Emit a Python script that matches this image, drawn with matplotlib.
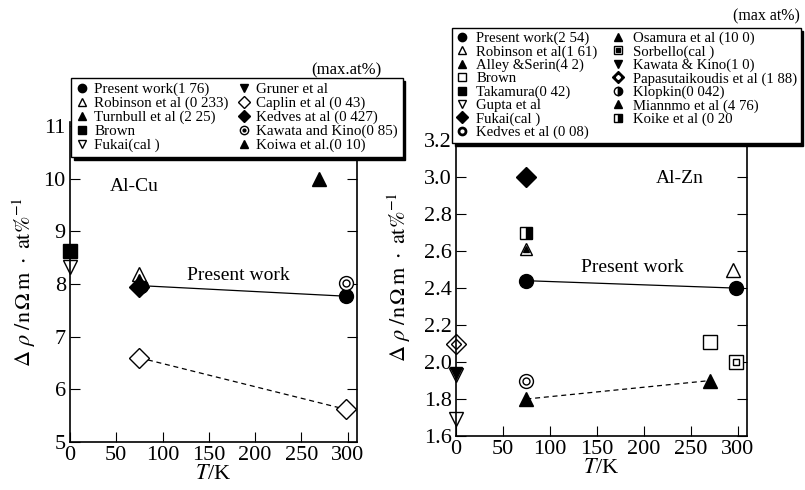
import matplotlib
matplotlib.use("Agg")
import matplotlib.pyplot as plt
from matplotlib.lines import Line2D

plt.rcParams['font.family'] = ['Liberation Serif', 'DejaVu Serif']
plt.rcParams['mathtext.fontset'] = 'stix'

# ---- Al-Cu data (T in K, d_rho in nOhm m / at%) ----
cu_present_T = [77, 298]
cu_present_r = [7.97, 7.77]
cu_robinson_T = [75]
cu_robinson_r = [8.2]
cu_turnbull_T = [75]
cu_turnbull_r = [8.12]
cu_brown_T = [0]
cu_brown_r = [8.62]
cu_fukai_T = [0]
cu_fukai_r = [8.32]
cu_caplin_T = [75, 298]
cu_caplin_r = [6.6, 5.62]
cu_kedves_T = [75]
cu_kedves_r = [7.95]
cu_kawata_T = [298]
cu_kawata_r = [8.03]
cu_koiwa_T = [269]
cu_koiwa_r = [10.0]

# ---- Al-Zn data ----
zn_present_T = [75, 298]
zn_present_r = [2.44, 2.40]
zn_robinson_T = [295]
zn_robinson_r = [2.50]
zn_alley_T = [75]
zn_alley_r = [2.61]
zn_brown_T = [271]
zn_brown_r = [2.11]
zn_gupta_T = [0, 0]
zn_gupta_r = [1.69, 1.93]
zn_fukai_T = [75]
zn_fukai_r = [3.0]
zn_kedves_T = [75]
zn_kedves_r = [1.9]
zn_osamura_T = [75, 271]
zn_osamura_r = [1.80, 1.90]
zn_sorbello_T = [298]
zn_sorbello_r = [2.0]
zn_kawata_T = [0]
zn_kawata_r = [1.94]
zn_papas_T = [0]
zn_papas_r = [2.1]
zn_koike_T = [75]
zn_koike_r = [2.7]

cu_ticks = [5, 6, 7, 8, 9, 10, 11]
zn_ticks = [1.6, 1.8, 2.0, 2.2, 2.4, 2.6, 2.8, 3.0, 3.2]
x_ticks = [0, 50, 100, 150, 200, 250, 300]

fig = plt.figure(figsize=(8.05, 4.9), dpi=100)
ax1 = fig.add_axes([70 / 805, 48 / 490, 287 / 805, 320 / 490])
ax2 = fig.add_axes([456 / 805, 54 / 490, 291 / 805, 318 / 490])

ylab = r'$\Delta\ \rho\ /\mathrm{n\,\Omega\,m}\ \cdot\ \mathrm{at\%}^{-1}$'

for ax in (ax1, ax2):
    ax.set_xlim(0, 310)
    ax.set_xticks(x_ticks)
    ax.spines['top'].set_visible(False)
    ax.tick_params(direction='in', length=7, labelsize=16, right=True, top=False, pad=3)
    ax.set_xlabel(r'$T$/K', fontsize=16, labelpad=0)
    for sp in ax.spines.values():
        sp.set_linewidth(1.2)
ax1.set_ylabel(ylab, fontsize=16, labelpad=4)
ax2.set_ylabel(ylab, fontsize=16, labelpad=8)

ms = 10
k = dict(color='black', linestyle='none', clip_on=False, markersize=ms)
wf = dict(color='black', markerfacecolor='white', linestyle='none', clip_on=False, markersize=ms)

# ---------------- Al-Cu ----------------
ax1.set_ylim(5, 11.08)
ax1.set_yticks(cu_ticks)
ax1.plot(cu_present_T, cu_present_r, 'o-', color='black', lw=0.9, markersize=ms, clip_on=False)
ax1.plot(cu_caplin_T, cu_caplin_r, 'D--', color='black', markerfacecolor='white', lw=0.9,
         dashes=(4, 3), markersize=10, clip_on=False)
ax1.plot(cu_robinson_T, cu_robinson_r, '^', **wf)
ax1.plot(cu_turnbull_T, cu_turnbull_r, '^', color='black', linestyle='none', markersize=6)
ax1.plot(cu_kedves_T, cu_kedves_r, 'D', **k)
ax1.plot(cu_brown_T, cu_brown_r, 's', **k)
ax1.plot(cu_fukai_T, cu_fukai_r, 'v', **wf)
ax1.plot(cu_kawata_T, cu_kawata_r, 'o', **wf)
ax1.plot(cu_kawata_T, cu_kawata_r, 'o', color='black', markerfacecolor='white', linestyle='none', markersize=5)
ax1.plot(cu_koiwa_T, cu_koiwa_r, '^', **k)
ax1.text(43, 9.85, 'Al-Cu', fontsize=14, va='center')
ax1.text(126, 8.17, 'Present work', fontsize=14, va='center')
fig.text(381 / 805, 1 - 70 / 490, '(max.at%)', fontsize=12, ha='right', va='center')


def h(m, fc='black', size=6, **kw):
    return Line2D([], [], marker=m, color='black', markerfacecolor=fc, linestyle='none',
                  markersize=size, **kw)


def dot(m, fc):
    return Line2D([], [], marker=m, color=fc, markeredgecolor=fc, linestyle='none', markersize=2)


cu_handles = [h('o'), h('^', 'white'), h('^'), h('s'), h('v', 'white'),
              h('v'), h('D', 'white'), h('D'), (h('o', 'white'), dot('o', 'black')),
              h('^')]
cu_labels = ['Present work(1 76)', 'Robinson et al (0 233)', 'Turnbull et al (2 25)', 'Brown',
             'Fukai(cal )', 'Gruner et al', 'Caplin et al (0 43)', 'Kedves at al (0 427)',
             'Kawata and Kino(0 85)', 'Koiwa et al.(0 10)']
leg1 = ax1.legend(cu_handles, cu_labels, ncol=2, loc='upper left',
                  bbox_to_anchor=(71 / 805, 1 - 78 / 490), bbox_transform=fig.transFigure,
                  fontsize=10.8, labelspacing=0.03, handlelength=0.8, handletextpad=0.45,
                  columnspacing=0.6, borderpad=0.3, borderaxespad=0, fancybox=False,
                  shadow={'color': 'black', 'alpha': 1}, framealpha=1, edgecolor='black')
leg1.get_frame().set_linewidth(1.0)

# ---------------- Al-Zn ----------------
ax2.set_ylim(1.6, 3.32)
ax2.set_yticks(zn_ticks)
ax2.set_yticklabels(['%.1f' % v for v in zn_ticks])
ax2.plot(zn_present_T, zn_present_r, 'o-', color='black', lw=0.9, markersize=ms, clip_on=False)
ax2.plot(zn_osamura_T, zn_osamura_r, '^--', color='black', lw=0.9, dashes=(4, 3), markersize=ms, clip_on=False)
ax2.plot(zn_robinson_T, zn_robinson_r, '^', **wf)
ax2.plot(zn_alley_T, zn_alley_r, '^', color='black', markerfacecolor='white', linestyle='none', markersize=8)
ax2.plot(zn_alley_T, zn_alley_r, '^', color='black', linestyle='none', markersize=5)
ax2.plot(zn_brown_T, zn_brown_r, 's', **wf)
ax2.plot(zn_gupta_T, zn_gupta_r, 'v', **wf)
ax2.plot(zn_kawata_T, zn_kawata_r, 'v', color='black', linestyle='none', markersize=8, clip_on=False)
ax2.plot(zn_fukai_T, zn_fukai_r, 'D', **k)
ax2.plot(zn_kedves_T, zn_kedves_r, 'o', **wf)
ax2.plot(zn_kedves_T, zn_kedves_r, 'o', color='black', markerfacecolor='white', linestyle='none', markersize=5)
ax2.plot(zn_sorbello_T, zn_sorbello_r, 's', **wf)
ax2.plot(zn_sorbello_T, zn_sorbello_r, 's', color='black', markerfacecolor='white', linestyle='none', markersize=5)
ax2.plot(zn_papas_T, zn_papas_r, 'D', **wf)
ax2.plot(zn_papas_T, zn_papas_r, 'D', color='black', markerfacecolor='white', linestyle='none',
         markersize=5, clip_on=False)
ax2.plot(zn_koike_T, zn_koike_r, 's', color='black', fillstyle='right', markerfacecoloralt='white',
         linestyle='none', markersize=8)
ax2.text(213, 2.995, 'Al-Zn', fontsize=14, va='center')
ax2.text(133, 2.51, 'Present work', fontsize=14, va='center')
fig.text(800 / 805, 1 - 16 / 490, '(max at%)', fontsize=11.5, ha='right', va='center')

zn_handles = [h('o'), h('^', 'white'), h('^'), h('s', 'white'), h('s'), h('v', 'white'), h('D'),
              (h('o'), dot('o', 'white')),
              h('^'), (h('s', 'white'), h('s', size=3)), h('v'),
              (h('D'), dot('D', 'white')),
              Line2D([], [], marker='o', color='black', fillstyle='left', markerfacecolor='white',
                     markerfacecoloralt='black', linestyle='none', markersize=6),
              h('^'),
              Line2D([], [], marker='s', color='black', fillstyle='right', markerfacecolor='black',
                     markerfacecoloralt='white', linestyle='none', markersize=6)]
zn_labels = ['Present work(2 54)', 'Robinson et al(1 61)', 'Alley &Serin(4 2)', 'Brown',
             'Takamura(0 42)', 'Gupta et al', 'Fukai(cal )', 'Kedves et al (0 08)',
             'Osamura et al (10 0)', 'Sorbello(cal )', 'Kawata & Kino(1 0)',
             'Papasutaikoudis et al (1 88)', 'Klopkin(0 042)', 'Miannmo et al (4 76)',
             'Koike et al (0 20']
leg2 = ax2.legend(zn_handles, zn_labels, ncol=2, loc='upper left',
                  bbox_to_anchor=(452 / 805, 1 - 28 / 490), bbox_transform=fig.transFigure,
                  fontsize=10.6, labelspacing=0.0, handlelength=0.8, handletextpad=0.6,
                  columnspacing=1.0, borderpad=0.25, borderaxespad=0, fancybox=False,
                  shadow={'color': 'black', 'alpha': 1}, framealpha=1, edgecolor='black')
leg2.get_frame().set_linewidth(1.0)

fig.savefig('out.png', dpi=100)
